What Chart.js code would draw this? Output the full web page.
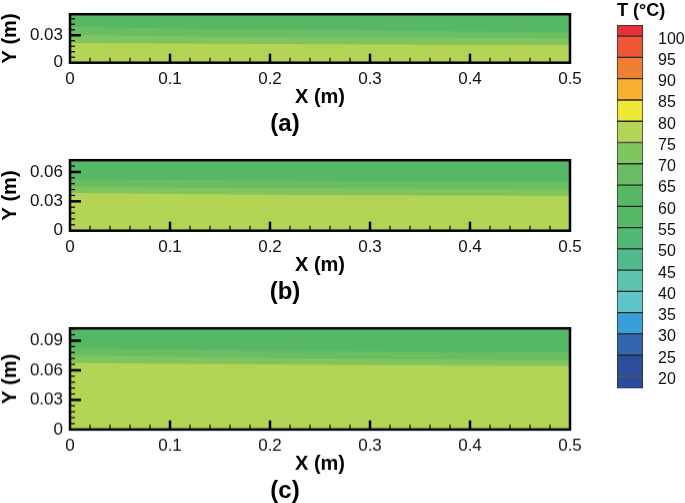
<!DOCTYPE html>
<html>
<head>
<meta charset="utf-8">
<script src="https://cdn.jsdelivr.net/npm/chart.js@4.4.0/dist/chart.umd.min.js"></script>
<style>
  html, body { margin: 0; padding: 0; background: #fff; overflow: hidden; }
  body { width: 685px; height: 503px; position: relative; }
  .box { position: absolute; }
</style>
</head>
<body>
<div class="box" style="left:0;top:-3.5px;width:590px;height:143.5px"><canvas id="panelA"></canvas></div>
<div class="box" style="left:0;top:142.5px;width:590px;height:165.5px"><canvas id="panelB"></canvas></div>
<div class="box" style="left:0;top:311.3px;width:590px;height:195.7px"><canvas id="panelC"></canvas></div>
<div class="box" style="left:590px;top:0;width:95px;height:413px"><canvas id="colorbar"></canvas></div>
<script>
// x stations (m) where the isotherm heights were read
const xPos = [0, 0.1, 0.2, 0.3, 0.4, 0.5];
const xTicks = [0, 0.1, 0.2, 0.3, 0.4, 0.5];

// isotherm heights (m) for each case
const isoA75 = [0.0215, 0.0210, 0.0205, 0.0200, 0.0197, 0.0194];
const isoA70 = [0.0305, 0.0290, 0.0280, 0.0275, 0.0270, 0.0268];
const isoA65 = [0.0395, 0.0375, 0.0362, 0.0352, 0.0344, 0.0337];

const isoB75 = [0.0384, 0.0375, 0.0368, 0.0363, 0.0360, 0.0357];
const isoB70 = [0.0450, 0.0442, 0.0435, 0.0430, 0.0427, 0.0424];
const isoB65 = [0.0525, 0.0518, 0.0512, 0.0507, 0.0503, 0.0500];

const isoC75 = [0.0677, 0.0668, 0.0660, 0.0653, 0.0648, 0.0644];
const isoC70 = [0.0756, 0.0740, 0.0725, 0.0716, 0.0710, 0.0705];
const isoC65 = [0.0824, 0.0812, 0.0800, 0.0792, 0.0787, 0.0783];

// colour levels (°C)
const levels = [20, 25, 30, 35, 40, 45, 50, 55, 60, 65, 70, 75, 80, 85, 90, 95, 100];
const cbMin = 17.2, cbMax = 102.6;
// one colour per band, from below 20 up to above 100
const bandColors = ['#2a4b9d', '#2b4d9c', '#3266b1', '#3a9fd8', '#60c4cb', '#5ec3ae', '#52b98c',
  '#52b877', '#57b868', '#56b865', '#6abd62', '#80c45e', '#b4d456', '#efe735', '#f8b02e',
  '#f07e33', '#ee5533', '#e8303a'];

const FONT = "'Liberation Sans', Arial, sans-serif";
Chart.defaults.font.family = FONT;

// colour of the band that starts at a given level
const band = lo => bandColors[levels.indexOf(lo) + 1];
const fmt = (v, d) => (Math.abs(v) < 1e-9 ? '0' : v.toFixed(d));

// black frame and inward ticks, like the original plotting package
const frameTicks = {
  id: 'frameTicks',
  afterDatasetsDraw(chart, args, opts) {
    const { ctx, chartArea: a, scales: { x, y } } = chart;
    ctx.save();
    ctx.strokeStyle = '#000';
    for (let i = 1; i < 25; i++) {
      const px = x.getPixelForValue(i * 0.02);
      const major = i % 5 === 0;
      ctx.lineWidth = major ? 2.5 : 1.2;
      ctx.beginPath();
      ctx.moveTo(px, a.bottom);
      ctx.lineTo(px, a.bottom - (major ? 9 : 5));
      ctx.stroke();
    }
    for (let i = 1; i * opts.yMinor < y.max - 1e-9; i++) {
      const py = y.getPixelForValue(i * opts.yMinor);
      const major = i % 5 === 0;
      ctx.lineWidth = major ? 2.5 : 1.2;
      ctx.beginPath();
      ctx.moveTo(a.left, py);
      ctx.lineTo(a.left + (major ? 11 : 5), py);
      ctx.stroke();
    }
    ctx.lineWidth = 2.5;
    ctx.strokeRect(a.left, a.top, a.right - a.left, a.bottom - a.top);
    ctx.restore();
  }
};

function renderPanel(canvasId, label, yMax, yTicks, iso75, iso70, iso65) {
  const ctx = document.getElementById(canvasId).getContext('2d');
  const pts = arr => xPos.map((x, i) => ({ x, y: arr[i] }));
  const common = { borderWidth: 0, pointRadius: 0, tension: 0.3 };

  // later datasets are painted first, so each band overlaps the one above it (no seams)
  return new Chart(ctx, {
    type: 'line',
    data: {
      datasets: [
        { ...common, data: pts(iso75), fill: 'origin', backgroundColor: band(75) },
        { ...common, data: pts(iso70), fill: 'origin', backgroundColor: band(70) },
        { ...common, data: pts(iso65), fill: 'origin', backgroundColor: band(65) },
        { ...common, data: pts(iso75), fill: 'end', backgroundColor: band(60) }
      ]
    },
    options: {
      responsive: true,
      maintainAspectRatio: false,
      animation: false,
      layout: { padding: { top: 8.5, right: 20, left: 0, bottom: 0 } },
      plugins: {
        legend: { display: false },
        tooltip: { enabled: false },
        title: {
          display: true, position: 'bottom', text: label, color: '#000',
          font: { size: 24, weight: 'bold' }, padding: { top: 0, bottom: 2 }
        },
        frameTicks: { yMinor: 0.006 }
      },
      scales: {
        x: {
          type: 'linear', min: 0, max: 0.5,
          grid: { display: false, drawTicks: false }, border: { display: false },
          afterBuildTicks: s => { s.ticks = xTicks.map(v => ({ value: v })); },
          afterFit: s => { s.height = 47; },
          ticks: { padding: 6, color: '#111', font: { size: 17 }, maxRotation: 0, callback: v => fmt(v, 1) },
          title: {
            display: true, text: 'X (m)', color: '#000',
            font: { size: 20, weight: 'bold', lineHeight: 1 }, padding: { top: 0, bottom: 2 }
          }
        },
        y: {
          type: 'linear', min: 0, max: yMax,
          grid: { display: false, drawTicks: false }, border: { display: false },
          afterBuildTicks: s => { s.ticks = yTicks.map(v => ({ value: v })); },
          afterFit: s => { s.width = 70; },
          ticks: { padding: 7, color: '#111', font: { size: 17 }, callback: v => fmt(v, 2) },
          title: {
            display: true, text: 'Y (m)', color: '#000',
            font: { size: 20, weight: 'bold', lineHeight: 1 }, padding: 0
          }
        }
      }
    },
    plugins: [frameTicks]
  });
}

function renderColorbar(canvasId) {
  const ctx = document.getElementById(canvasId).getContext('2d');
  const edges = [cbMin, ...levels, cbMax];

  return new Chart(ctx, {
    type: 'bar',
    data: {
      labels: [''],
      datasets: bandColors.map((c, i) => ({
        data: [[edges[i], edges[i + 1]]],
        backgroundColor: c,
        borderColor: '#2a2a2a',
        borderWidth: 1,
        borderSkipped: false,
        grouped: false,
        barPercentage: 1,
        categoryPercentage: 1
      }))
    },
    options: {
      responsive: true,
      maintainAspectRatio: false,
      animation: false,
      layout: { padding: { top: 0, right: 0, left: 27, bottom: 1 } },
      plugins: {
        legend: { display: false },
        tooltip: { enabled: false },
        title: {
          display: true, text: 'T (°C)', align: 'start', color: '#000',
          font: { size: 18, weight: 'bold' }, padding: { top: 0, bottom: 3.5 }
        }
      },
      scales: {
        x: { display: false },
        y: {
          position: 'right', min: cbMin, max: cbMax,
          grid: { display: false, drawTicks: false }, border: { display: false },
          afterBuildTicks: s => { s.ticks = levels.map(v => ({ value: v })); },
          afterFit: s => { s.width = 42; },
          ticks: { padding: 15, labelOffset: 3, color: '#111', font: { size: 16 } }
        }
      }
    }
  });
}

renderPanel('panelA', '(a)', 0.053, [0, 0.03], isoA75, isoA70, isoA65);
renderPanel('panelB', '(b)', 0.072, [0, 0.03, 0.06], isoB75, isoB70, isoB65);
renderPanel('panelC', '(c)', 0.1025, [0, 0.03, 0.06, 0.09], isoC75, isoC70, isoC65);
renderColorbar('colorbar');
</script>
</body>
</html>
